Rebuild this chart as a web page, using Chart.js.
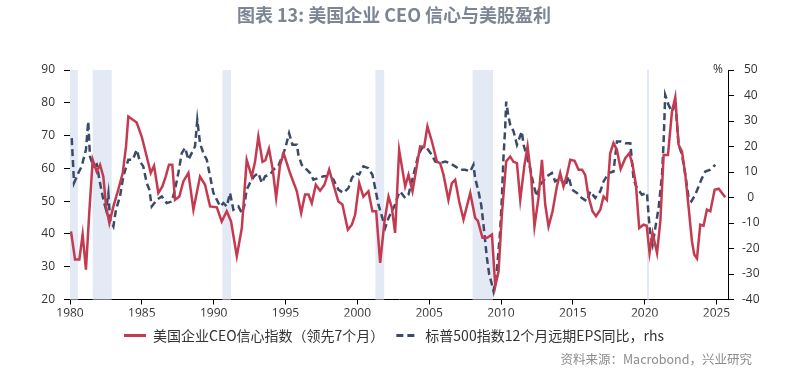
<!DOCTYPE html>
<html>
<head>
<meta charset="utf-8">
<script src="https://cdn.jsdelivr.net/npm/chart.js@4"></script>
<style>
  body { margin: 0; background: #fff; }
</style>
</head>
<body>
<canvas id="myChart1" width="808" height="382"></canvas>
<script>
const ctx = document.getElementById("myChart1").getContext("2d");

// 美国企业CEO信心指数（领先7个月）, left axis
const ceoDates = [
  1980.07, 1980.35, 1980.65, 1980.88, 1981.11, 1981.34, 1981.58, 1981.86, 1982.09, 1982.32,
  1982.51, 1982.74, 1983.02, 1983.36, 1983.67, 1983.9, 1984.06, 1984.64, 1984.99, 1985.34,
  1985.62, 1985.85, 1986.15, 1986.43, 1986.66, 1986.89, 1987.12, 1987.31, 1987.61, 1987.89,
  1988.24, 1988.59, 1989.05, 1989.4, 1989.75, 1990.22, 1990.56, 1990.91, 1991.21, 1991.61,
  1991.96, 1992.3, 1992.65, 1992.88, 1993.11, 1993.4, 1993.6, 1993.85, 1994.1, 1994.35,
  1994.62, 1994.87, 1995.32, 1995.79, 1996.09, 1996.36, 1996.6, 1996.83, 1997.11, 1997.41,
  1997.71, 1998.04, 1998.34, 1998.68, 1998.96, 1999.34, 1999.62, 1999.85, 2000.13, 2000.42,
  2000.77, 2001.05, 2001.31, 2001.59, 2001.89, 2002.17, 2002.4, 2002.63, 2002.91, 2003.33,
  2003.56, 2003.84, 2004.37, 2004.65, 2004.88, 2005.19, 2005.54, 2005.77, 2006.0, 2006.34,
  2006.58, 2006.81, 2007.09, 2007.39, 2007.86, 2008.2, 2008.39, 2008.71, 2009.04, 2009.37,
  2009.6, 2009.83, 2010.06, 2010.36, 2010.64, 2010.87, 2011.11, 2011.34, 2011.62, 2011.85,
  2012.1, 2012.33, 2012.61, 2012.85, 2013.08, 2013.31, 2013.59, 2013.89, 2014.12, 2014.35,
  2014.59, 2014.82, 2015.12, 2015.4, 2015.64, 2015.86, 2016.09, 2016.37, 2016.61, 2016.91,
  2017.14, 2017.37, 2017.6, 2017.83, 2018.07, 2018.33, 2018.65, 2018.93, 2019.16, 2019.39,
  2019.62, 2019.92, 2020.14, 2020.34, 2020.55, 2020.86, 2021.09, 2021.32, 2021.62, 2021.9,
  2022.13, 2022.36, 2022.6, 2022.83, 2023.06, 2023.29, 2023.45, 2023.64, 2023.87, 2024.1,
  2024.33, 2024.57, 2024.87, 2025.15, 2025.61,
];
const ceoValues = [
  40.8, 32.2, 32.2, 39.8, 29.1, 46.4, 62.6, 59, 61.1, 57.5,
  48.4, 43.3, 48.4, 53.5, 58.6, 66.7, 75.8, 74, 69.7, 63.6,
  58.6, 60.8, 52.5, 54.5, 57.5, 61.1, 61.1, 50.4, 51.4, 56,
  58.6, 47.4, 57.5, 55, 48.4, 48.1, 43.8, 46.9, 43.8, 33.2,
  41.8, 62.6, 57.5, 62, 69.7, 62, 62.5, 66, 60, 51,
  61, 64.6, 58.5, 53, 46.4, 52, 52, 49.4, 55, 53.2,
  55, 59.6, 55, 49.9, 49, 41.3, 42.8, 45.9, 55.5, 51.4,
  53, 46.9, 46.9, 31.2, 43.8, 51.4, 48, 40.3, 65.6, 54.5,
  58, 53, 66.7, 66.5, 72.8, 68.2, 62.1, 61.5, 58, 50.4,
  55.5, 56.5, 49.9, 44.4, 52.5, 44.9, 44, 38.8, 38.8, 39.8,
  24, 28.6, 45.9, 62.1, 63.6, 62, 61.6, 50.4, 60.6, 66.7,
  57.5, 42.3, 51, 62.6, 48.9, 42.3, 46.9, 54.5, 58.6, 54.5,
  58, 62.6, 62.3, 59.6, 59.6, 58, 51.4, 46.9, 45.4, 47.4,
  51.4, 50.4, 64.6, 67.7, 65.6, 59.8, 63.1, 64.6, 61.1, 55,
  41.8, 42.8, 42.5, 34.2, 40.3, 34.2, 43.8, 64.1, 64.1, 77.3,
  81.7, 67.2, 65.1, 58, 48, 37.8, 33.7, 32.5, 42.8, 42.5,
  47.4, 46.9, 53.5, 53.8, 51.2,
];

// 标普500指数12个月远期EPS同比 (%), right axis
const epsDates = [
  1980.12, 1980.28, 1980.58, 1980.81, 1981.11, 1981.27, 1981.39, 1981.62, 1981.86, 1982.09,
  1982.32, 1982.51, 1982.67, 1982.79, 1983.02, 1983.2, 1983.48, 1983.71, 1984.06, 1984.37,
  1984.64, 1984.87, 1985.1, 1985.34, 1985.52, 1985.69, 1986.04, 1986.39, 1986.73, 1987.08,
  1987.31, 1987.54, 1987.78, 1988.01, 1988.24, 1988.47, 1988.7, 1988.86, 1989.05, 1989.28,
  1989.52, 1989.75, 1989.98, 1990.22, 1990.45, 1990.68, 1990.91, 1991.14, 1991.37, 1991.72,
  1991.96, 1992.12, 1992.3, 1992.53, 1992.81, 1993.11, 1993.35, 1993.58, 1993.93, 1994.16,
  1994.51, 1994.97, 1995.25, 1995.48, 1995.79, 1995.9, 1996.13, 1996.48, 1996.71, 1996.94,
  1997.29, 1997.64, 1997.99, 1998.34, 1998.68, 1999.03, 1999.38, 1999.62, 1999.85, 2000.13,
  2000.42, 2000.77, 2001.05, 2001.24, 2001.47, 2001.71, 2001.94, 2002.17, 2002.4, 2002.63,
  2002.86, 2002.98, 2003.33, 2003.56, 2003.91, 2004.25, 2004.49, 2004.84, 2005.19, 2005.42,
  2005.77, 2006.11, 2006.46, 2006.81, 2007.16, 2007.51, 2007.86, 2008.08, 2008.2, 2008.43,
  2008.62, 2008.78, 2008.9, 2009.02, 2009.18, 2009.37, 2009.48, 2009.71, 2009.94, 2010.06,
  2010.17, 2010.29, 2010.36, 2010.52, 2010.64, 2010.87, 2011.11, 2011.45, 2011.57, 2011.8,
  2012.03, 2012.26, 2012.5, 2012.73, 2013.2, 2013.54, 2013.77, 2014.12, 2014.47, 2014.7,
  2014.94, 2015.28, 2015.63, 2015.98, 2016.21, 2016.56, 2016.91, 2017.14, 2017.49, 2017.83,
  2018.07, 2018.3, 2018.65, 2019.0, 2019.23, 2019.46, 2019.81, 2020.16, 2020.27, 2020.39,
  2020.55, 2020.74, 2020.97, 2021.21, 2021.32, 2021.43, 2021.66, 2021.9, 2022.13, 2022.36,
  2022.6, 2022.83, 2023.06, 2023.25, 2023.52, 2023.71, 2023.99, 2024.22, 2024.57, 2024.8,
  2024.92,
];
const epsValues = [
  23.3, 5.7, 9.6, 12.2, 18.7, 29.8, 16.1, 12.2, 13, 5.7,
  -0.9, -4.8, 1.6, -8.7, -11.3, -4.8, 0.4, 8.3, 14.8, 14.8,
  18.7, 14.1, 12.2, 5.7, 3.1, -3.5, -0.9, 0.4, -2.2, -1.6,
  3.1, 9.6, 17.4, 19.5, 14.8, 17.4, 20, 30.4, 21.3, 17.4,
  14.8, 8.3, 1.8, -0.9, -3.5, -2.2, -3.5, 1.8, -4.8, -3.5,
  -6.1, -3.5, 3.1, 5.7, 8.3, 9.6, 5.7, 8.3, 9, 10.9,
  12.5, 19, 25.2, 20.7, 20.7, 16.7, 12.8, 10.9, 9.6, 7,
  7.6, 8.3, 8.3, 7, 3.1, 1.8, 3.7, 7.6, 9.6, 9,
  12.2, 11.5, 8.9, 3.7, -2.8, -7.4, -11.9, -8, -5.4, -2.8,
  1.1, 2.4, -0.2, 1.1, 8.9, 16.7, 19.4, 19.4, 16.7, 14.1,
  13.5, 14.1, 13.5, 12.2, 10.9, 10.9, 10.2, 12.8, 7.6, 2.4,
  -2.8, -10.6, -17.2, -23.7, -30.2, -34.1, -36.7, -28.9, -13.3, -0.2,
  15.5, 27.2, 37.6, 31.7, 28.5, 26, 20.7, 25.9, 20.7, 16.1,
  11.5, 5, 0.4, 5, 8.3, 9.6, 6.3, 7.6, 4.3, 8.3,
  3.1, 1.8, -0.2, -1.5, 2.4, -0.2, 2.4, 6.3, 9.6, 10.2,
  22, 22, 21.3, 21.3, 7, 3.7, 1.1, 1.8, -6.7, -14.6,
  -18.5, -11.9, -4.1, 8.9, 22, 40.2, 36.3, 33.7, 37.6, 20.7,
  16.7, 8.9, -0.2, -1.5, 1.1, 3.7, 7.6, 10.2, 10.9, 12.2,
  12.8,
];

// recession shading, [start, end]
const recessions = [
  [1980.0, 1980.55],
  [1981.58, 1982.9],
  [1990.6, 1991.21],
  [2001.26, 2001.87],
  [2008.02, 2009.44],
  [2020.16, 2020.3],
];

const seriesLabels = [
  "美国企业CEO信心指数（领先7个月）",
  "标普500指数12个月远期EPS同比，rhs",
];

const bandsPlugin = {
  id: "bands",
  beforeDatasetsDraw(chart) {
    const { ctx, chartArea, scales } = chart;
    ctx.save();
    ctx.fillStyle = "#e3eaf5";
    recessions.forEach(([a, b]) => {
      const x1 = scales.x.getPixelForValue(a);
      const x2 = scales.x.getPixelForValue(b);
      ctx.fillRect(x1, chartArea.top, x2 - x1, chartArea.bottom - chartArea.top);
    });
    ctx.restore();
  },
};

const notesPlugin = {
  id: "notes",
  afterDraw(chart) {
    const { ctx, chartArea } = chart;
    ctx.save();
    ctx.font = '12px "Open Sans", "Noto Sans CJK SC", sans-serif';
    ctx.fillStyle = "#333";
    ctx.textAlign = "right";
    ctx.textBaseline = "middle";
    ctx.fillText("%", chartArea.right - 5, chartArea.top);
    ctx.font = '12.5px "Noto Sans CJK SC", sans-serif';
    ctx.fillStyle = "#8c8c8c";
    ctx.fillText("资料来源：Macrobond，兴业研究", 752, 359);
    ctx.restore();
  },
};

Chart.defaults.font.family = '"Open Sans", "Noto Sans CJK SC", sans-serif';
Chart.defaults.color = "#333";

const axisGrid = {
  drawOnChartArea: false,
  drawTicks: true,
  tickLength: 6,
  color: "#000",
};

const config = {
  type: "line",
  data: {
    datasets: [
      {
        label: seriesLabels[0],
        data: ceoDates.map((d, i) => ({ x: d, y: ceoValues[i] })),
        borderColor: "#c43a50",
        backgroundColor: "#c43a50",
        borderWidth: 2.5,
        pointRadius: 0,
        tension: 0,
        yAxisID: "y",
      },
      {
        label: seriesLabels[1],
        data: epsDates.map((d, i) => ({ x: d, y: epsValues[i] })),
        borderColor: "#3b4a68",
        backgroundColor: "#3b4a68",
        borderWidth: 2.5,
        borderDash: [7, 4],
        pointRadius: 0,
        tension: 0,
        yAxisID: "y1",
      },
    ],
  },
  options: {
    responsive: false,
    animation: false,
    // right padding + narrower y1 box keeps the plot edge at 728 while
    // pulling the title and legend centres a little to the left
    layout: { padding: { left: 0, right: 20, top: 0, bottom: 29.5 } },
    plugins: {
      title: {
        display: true,
        text: "图表 13: 美国企业 CEO 信心与美股盈利",
        color: "#7b8594",
        font: { size: 18, weight: "bold", family: '"Noto Sans CJK SC", sans-serif' },
        padding: { top: 4.5, bottom: 43.9 },
      },
      legend: {
        position: "bottom",
        align: "center",
        labels: {
          usePointStyle: true,
          pointStyle: "line",
          pointStyleWidth: 22,
          color: "#333",
          padding: 12,
          font: { size: 14, family: '"Noto Sans CJK SC", sans-serif' },
          // point-style legend items take the point's style, so bring back the line dash
          generateLabels: (chart) =>
            Chart.defaults.plugins.legend.labels.generateLabels(chart).map((item) => ({
              ...item,
              lineWidth: 3,
              lineDash: chart.data.datasets[item.datasetIndex].borderDash || [],
            })),
        },
      },
      tooltip: { enabled: false },
    },
    scales: {
      x: {
        type: "linear",
        min: 1980,
        max: 2025.8,
        grid: { ...axisGrid, tickLength: 5 },
        border: { color: "#000", width: 1 },
        ticks: {
          stepSize: 5,
          includeBounds: false,
          maxRotation: 0,
          padding: 2,
          font: { size: 12 },
          callback: (v) => String(v),
        },
        afterFit: (s) => { s.height = 17; },
      },
      y: {
        position: "left",
        min: 20,
        max: 90,
        grid: axisGrid,
        border: { color: "#000", width: 1 },
        ticks: { stepSize: 10, padding: 9, font: { size: 12 } },
        afterFit: (s) => { s.width = 70; },
      },
      y1: {
        position: "right",
        min: -40,
        max: 50,
        grid: axisGrid,
        border: { color: "#000", width: 1 },
        ticks: { stepSize: 10, padding: 8, crossAlign: "center", font: { size: 12 } },
        afterFit: (s) => { s.width = 60; },
      },
    },
  },
  plugins: [bandsPlugin, notesPlugin],
};

const myChart1 = new Chart(ctx, config);
</script>
</body>
</html>
